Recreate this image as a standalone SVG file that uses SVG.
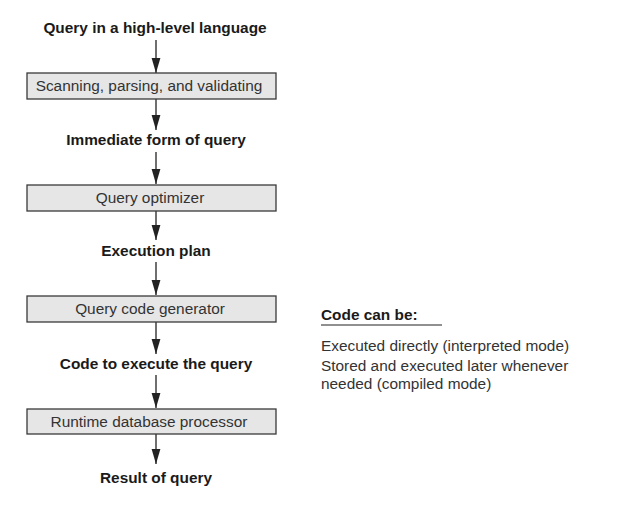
<svg xmlns="http://www.w3.org/2000/svg" width="625" height="508" viewBox="0 0 625 508">
<style>
.box{fill:#e6e6e6;stroke:#3a3a3a;stroke-width:1.3}
.bl{font-family:"Liberation Sans",Arial,sans-serif;font-size:15.4px;font-weight:bold;fill:#1a1a1a;text-anchor:middle}
.nl{font-family:"Liberation Sans",Arial,sans-serif;font-size:15.4px;fill:#333;text-anchor:middle}
.side{font-family:"Liberation Sans",Arial,sans-serif;font-size:15.4px;fill:#333}
.sideb{font-family:"Liberation Sans",Arial,sans-serif;font-size:15.4px;font-weight:bold;fill:#1a1a1a}
.conn{stroke:#222;stroke-width:1.3;fill:none;marker-end:url(#ah)}
</style>
<defs>
<marker id="ah" viewBox="0 0 15 10" refX="15" refY="5" markerWidth="15" markerHeight="10" markerUnits="userSpaceOnUse" orient="auto">
<path d="M0,0.6 L15,5 L0,9.4 Z" fill="#222"/>
</marker>
</defs>
<rect width="625" height="508" fill="#fff"/>
<g id="connectors">
<line class="conn" x1="156" y1="40" x2="156" y2="73"/>
<line class="conn" x1="156" y1="99" x2="156" y2="130"/>
<line class="conn" x1="156" y1="152" x2="156" y2="184"/>
<line class="conn" x1="156" y1="211" x2="156" y2="240"/>
<line class="conn" x1="156" y1="262" x2="156" y2="295"/>
<line class="conn" x1="156" y1="322" x2="156" y2="354"/>
<line class="conn" x1="156" y1="375" x2="156" y2="408"/>
<line class="conn" x1="156" y1="434" x2="156" y2="464"/>
</g>
<g id="query-input"><text class="bl" x="155" y="33">Query in a high-level language</text></g>
<g id="scanning"><rect class="box" x="27" y="73" width="249" height="26"/><text class="nl" x="149" y="91">Scanning, parsing, and validating</text></g>
<g id="immediate-form"><text class="bl" x="156" y="145">Immediate form of query</text></g>
<g id="optimizer"><rect class="box" x="27" y="185" width="249" height="26"/><text class="nl" x="150" y="203">Query optimizer</text></g>
<g id="execution-plan"><text class="bl" x="156" y="256">Execution plan</text></g>
<g id="code-generator"><rect class="box" x="27" y="296" width="249" height="26"/><text class="nl" x="150" y="314">Query code generator</text></g>
<g id="code"><text class="bl" x="156" y="369">Code to execute the query</text></g>
<g id="runtime"><rect class="box" x="27" y="409" width="249" height="25"/><text class="nl" x="149" y="427">Runtime database processor</text></g>
<g id="result"><text class="bl" x="156" y="483">Result of query</text></g>
<g id="notes">
<text class="sideb" x="321" y="320">Code can be:</text>
<line x1="321" y1="325" x2="442" y2="325" stroke="#222" stroke-width="1.2"/>
<text class="side" x="321" y="351">Executed directly (interpreted mode)</text>
<text class="side" x="321" y="371">Stored and executed later whenever</text>
<text class="side" x="321" y="389">needed (compiled mode)</text>
</g>
</svg>
